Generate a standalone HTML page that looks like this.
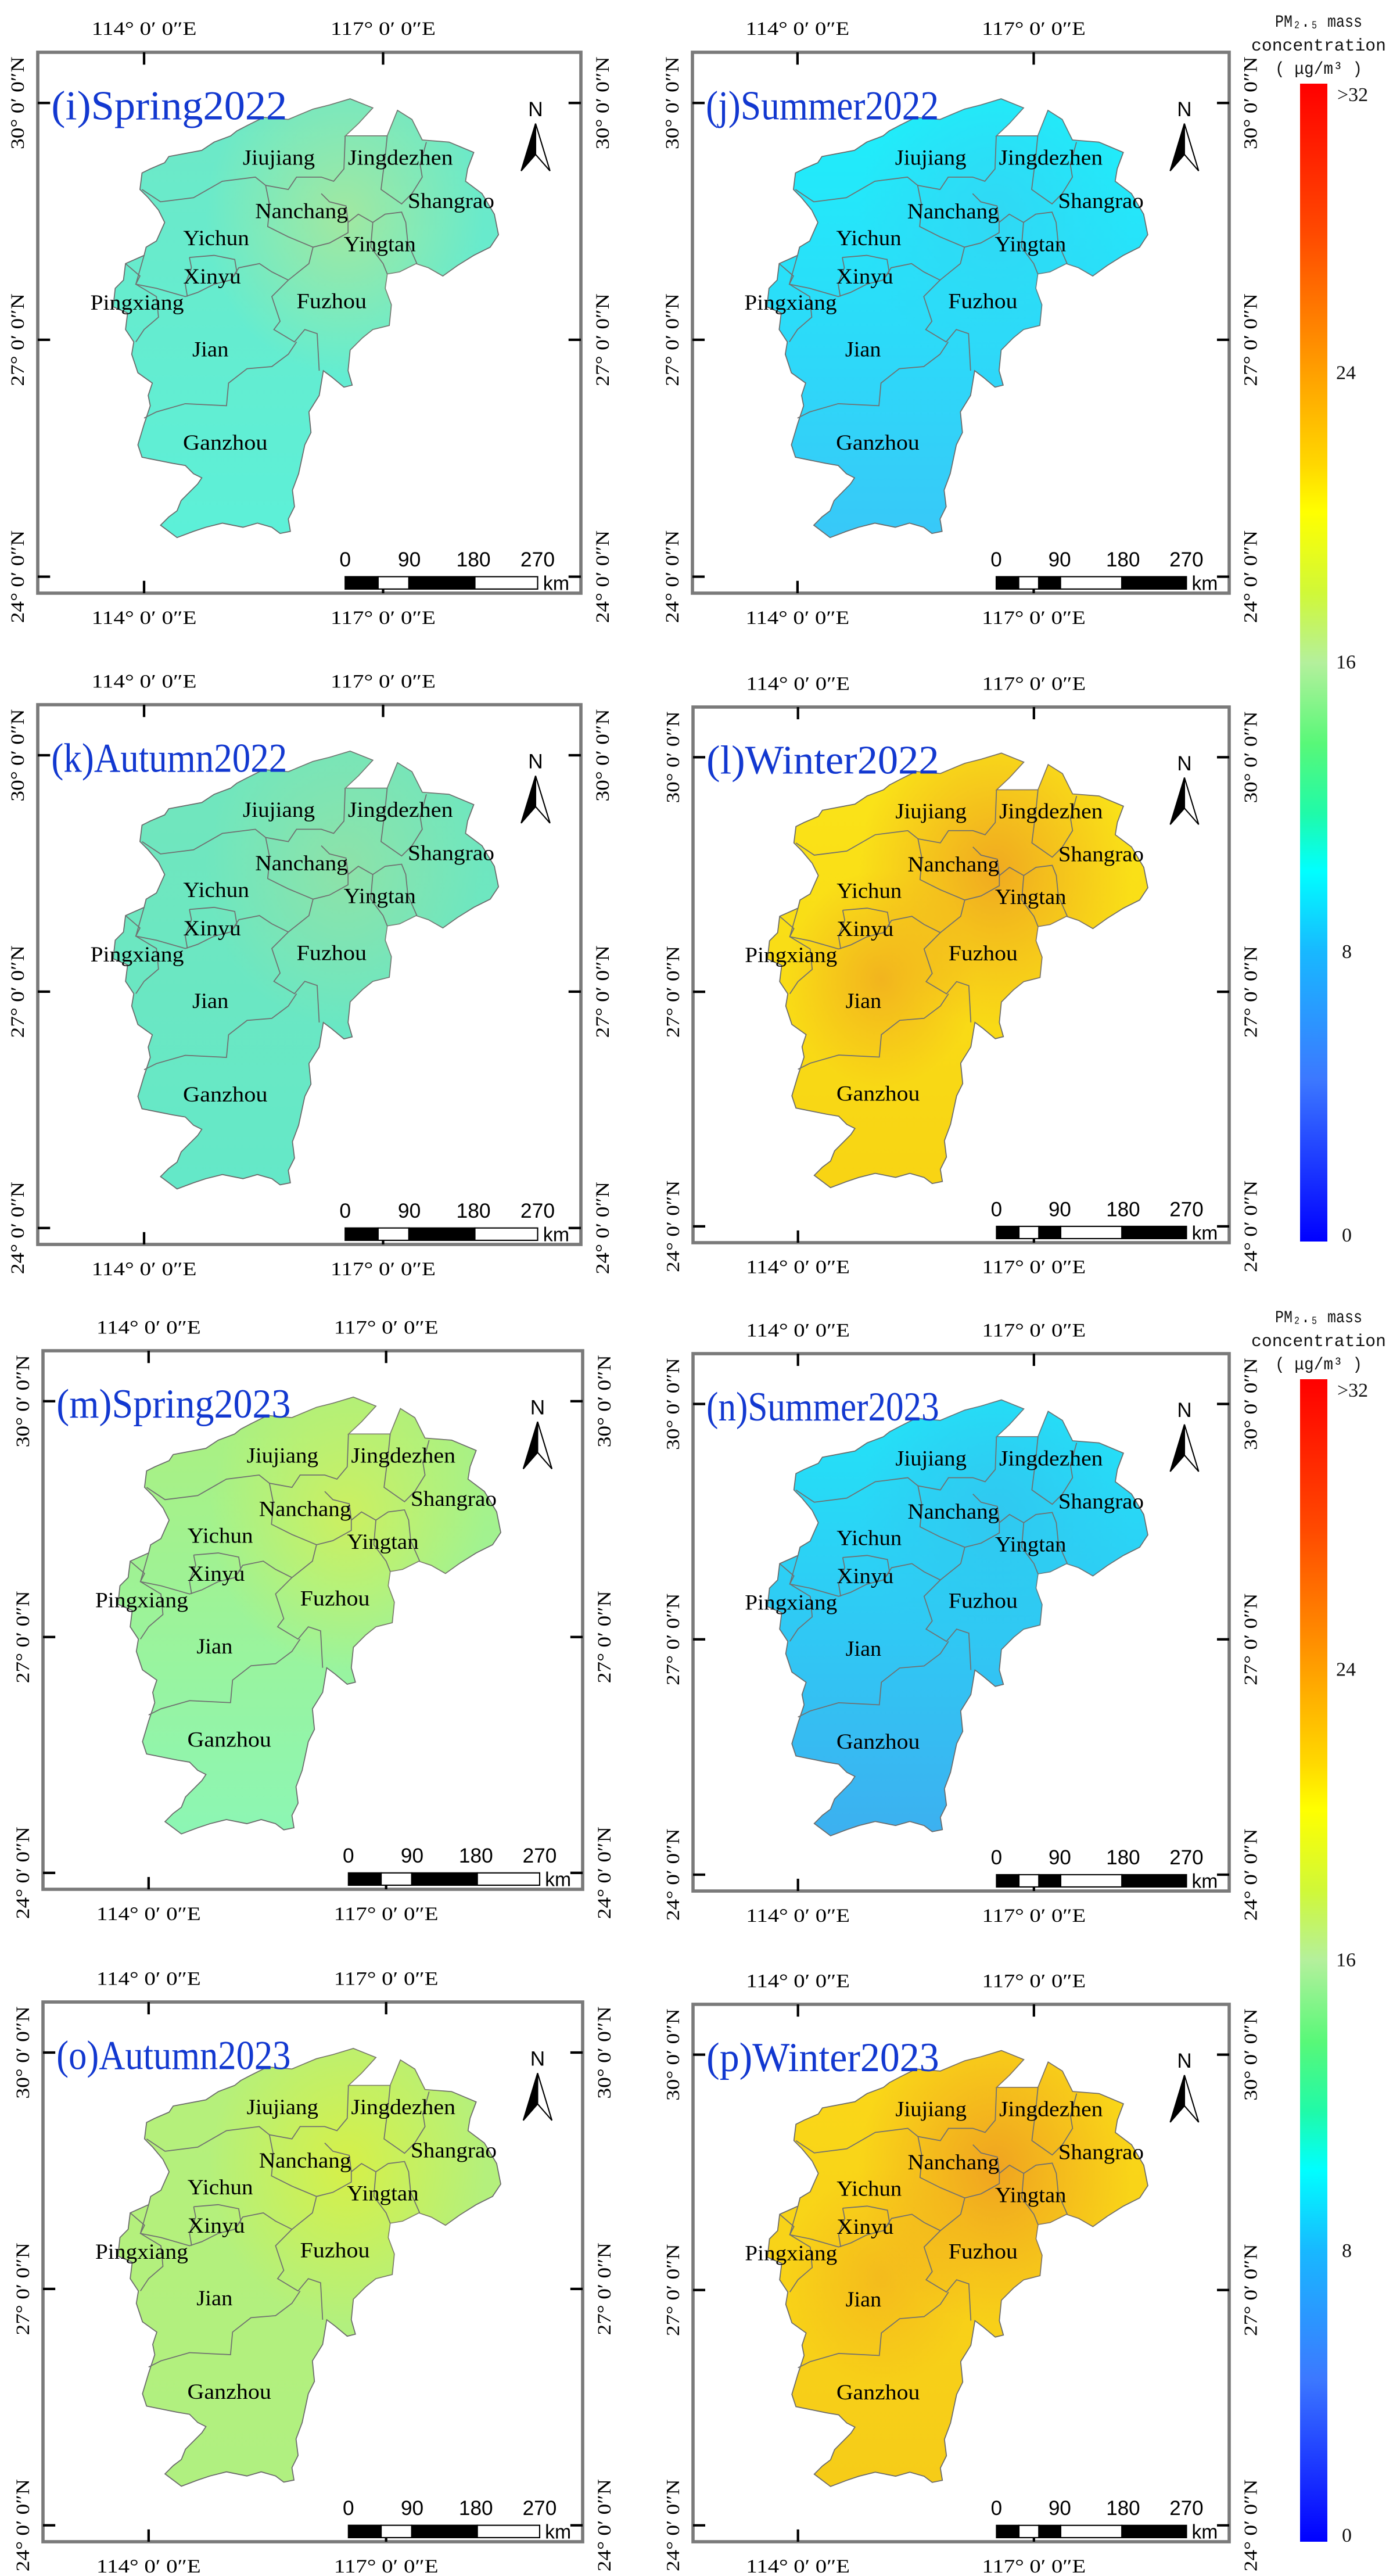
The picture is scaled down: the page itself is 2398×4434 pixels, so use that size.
<!DOCTYPE html>
<html><head><meta charset="utf-8"><style>
html,body{margin:0;padding:0;background:#fff;}
svg{display:block;}
</style></head><body>
<svg id="fig" xmlns="http://www.w3.org/2000/svg" width="2398" height="4434" viewBox="0 0 2398 4434">
<defs>
<linearGradient id="cbar" x1="0" y1="0" x2="0" y2="1">
<stop offset="0" stop-color="#ff0000"/><stop offset="0.13" stop-color="#ff4a00"/>
<stop offset="0.25" stop-color="#ffa000"/><stop offset="0.33" stop-color="#ffd800"/>
<stop offset="0.37" stop-color="#ffff00"/><stop offset="0.44" stop-color="#d0f838"/>
<stop offset="0.5" stop-color="#b4f09c"/><stop offset="0.57" stop-color="#58f878"/>
<stop offset="0.63" stop-color="#20faa8"/><stop offset="0.68" stop-color="#00ffff"/>
<stop offset="0.75" stop-color="#18b8ff"/><stop offset="0.86" stop-color="#3c78ff"/>
<stop offset="1" stop-color="#0000ff"/>
</linearGradient>
</defs>
</svg>
<script>
// ---- panel data ----
const panelTitles = ["(i)Spring2022","(j)Summer2022","(k)Autumn2022","(l)Winter2022","(m)Spring2023","(n)Summer2023","(o)Autumn2023","(p)Winter2023"];
const panelTopColors = ["#6ee8c6","#1ef0fa","#72e6bc","#fae418","#acf07e","#22e4f8","#b6f07a","#fad818"];
const panelBottomColors = ["#5cf0d8","#38c8f8","#64e8c8","#f8d414","#8cf6b4","#3cb0f0","#b0f080","#f6cc18"];
const panelHotColors = ["#a2e8a0","#30d8f4","#8ee2a8","#f0aa20","#ccf060","#30c8f0","#d6f048","#f0a420"];
const panelHot2Opacity = [0,0,0,0.8,0,0,0,0.5];
const cityNames = ["Jiujiang","Jingdezhen","Shangrao","Nanchang","Yichun","Yingtan","Xinyu","Pingxiang","Fuzhou","Jian","Ganzhou"];
const scaleTicks = ["0","90","180","270"];
const lonLabels = ["114°  0′ 0″E","117°  0′ 0″E"];
const latLabels = ["30°  0′ 0″N","27°  0′ 0″N","24°  0′ 0″N"];
const cbarTicks = [">32","24","16","8","0"];
const cbarFrac = [0,0.25,0.5,0.75,1];

// ---- geometry (reference units: frame 92..1410 x 127..1440) ----
const outline = [[850,240],[905,262],[870,300],[838,330],[940,330],[965,268],[1000,290],[1025,340],[1090,345],[1150,370],[1135,410],[1130,440],[1170,470],[1200,520],[1210,570],[1190,600],[1150,620],[1110,645],[1075,670],[1040,650],[1010,640],[970,660],[940,665],[935,700],[950,740],[945,790],[905,800],[880,820],[850,850],[845,900],[855,935],[835,940],[805,915],[785,900],[775,960],[750,1000],[755,1050],[740,1080],[725,1150],[710,1190],[715,1230],[700,1260],[705,1290],[680,1295],[660,1280],[625,1270],[590,1280],[540,1270],[500,1280],[470,1290],[430,1305],[390,1275],[410,1255],[430,1240],[440,1215],[460,1195],[480,1175],[490,1160],[470,1150],[450,1130],[420,1125],[345,1110],[335,1080],[350,1030],[355,1015],[365,985],[360,960],[370,930],[335,905],[320,860],[325,830],[305,800],[310,760],[275,745],[280,700],[300,680],[305,640],[350,620],[355,600],[380,585],[400,540],[385,510],[360,480],[340,460],[345,420],[365,410],[400,395],[410,380],[490,365],[520,345],[560,330],[575,318],[600,305],[640,285],[700,290],[760,265],[800,255]];
const borders = [
 [[345,460],[390,490],[470,480],[540,440],[620,430],[645,450],[700,460],[720,430],[780,430],[810,440],[835,410],[838,330]],
 [[940,330],[935,380],[925,460],[975,495],[1000,470],[1025,430],[1020,400],[1035,345]],
 [[645,450],[655,500],[650,550],[700,575],[760,600],[800,590],[845,565],[845,540],[870,520],[905,540],[935,520],[975,515],[985,540],[990,590],[1012,640]],
 [[780,470],[800,490],[840,500],[845,540]],
 [[905,540],[900,600],[930,640],[940,665]],
 [[760,600],[750,640],[700,680],[660,720],[680,780],[665,800],[715,830],[740,800],[770,810],[775,900]],
 [[305,640],[340,670],[330,690],[380,700],[450,720],[480,710],[520,690],[560,680],[580,650],[630,640],[660,660],[700,680]],
 [[460,625],[520,620],[570,630],[575,660],[560,680]],[[460,625],[465,650],[450,690],[455,720]],
 [[350,620],[330,690],[380,720],[385,770],[350,800],[330,830]],
 [[350,1015],[380,1000],[450,980],[550,985],[555,930],[600,895],[660,890],[700,860],[720,830]]
];
const labelPos = [[677,400],[972,400],[1095,505],[732,530],[525,595],[922,610],[515,688],[333,752],[805,748],[511,865],[547,1092]];
const labelLen = [175,255,210,225,160,175,140,227,170,88,205];

const NS='http://www.w3.org/2000/svg';
const svg=document.getElementById('fig');
function mk(tag,attrs,parent){const e=document.createElementNS(NS,tag);for(const k in attrs)e.setAttribute(k,attrs[k]);(parent||svg).appendChild(e);return e;}
const pts=a=>a.map(p=>p.join(',')).join(' ');

const frames=[[65,90,935,931],[1192,90,924,931],[65,1213,935,929],[1193,1217,923,922],[74,2325,929,927],[1193,2330,923,925],[74,3446,929,929],[1193,3450,923,925]];

function drawPanel(i){
  const [fx,fy,fw,fh]=frames[i];
  const sx=fw/1318, sy=fh/1313;
  const defs=svg.querySelector('defs');
  const lg=mk('linearGradient',{id:'fill'+i,x1:0,y1:0,x2:0,y2:1},defs);
  mk('stop',{offset:0,'stop-color':panelTopColors[i]},lg);
  mk('stop',{offset:1,'stop-color':panelBottomColors[i]},lg);
  const rg=mk('radialGradient',{id:'hot'+i,cx:0.6,cy:0.27,r:0.36},defs);
  mk('stop',{offset:0,'stop-color':panelHotColors[i],'stop-opacity':1},rg);
  mk('stop',{offset:1,'stop-color':panelHotColors[i],'stop-opacity':0},rg);
  const rg2=mk('radialGradient',{id:'hotb'+i,cx:0.3,cy:0.52,r:0.25},defs);
  mk('stop',{offset:0,'stop-color':panelHotColors[i],'stop-opacity':panelHot2Opacity[i]},rg2);
  mk('stop',{offset:1,'stop-color':panelHotColors[i],'stop-opacity':0},rg2);
  const g=mk('g',{transform:`translate(${fx},${fy}) scale(${sx},${sy}) translate(-92,-127)`});
  
  
  const fr=mk('rect',{x:92,y:127,width:1318,height:1313,fill:'#fff',stroke:'#7a7a7a','stroke-width':8},g);
  
  
  const prov=mk('polygon',{points:pts(outline),fill:`url(#fill${i})`,stroke:'#6a6a6a','stroke-width':2.5},g);
  
  
  const hot=mk('polygon',{points:pts(outline),fill:`url(#hot${i})`},g);
  
  
  const hot2=mk('polygon',{points:pts(outline),fill:`url(#hotb${i})`},g);
  
  
  borders.forEach(b=>{
    const l=mk('polyline',{points:pts(b),fill:'none',stroke:'#707070','stroke-width':2.5},g);
    
    
  });
  cityNames.forEach((n,k)=>{
    const t=mk('text',{x:labelPos[k][0],y:labelPos[k][1],'text-anchor':'middle','font-family':'Liberation Serif, serif','font-size':52,fill:'#000',textLength:labelLen[k],lengthAdjust:'spacingAndGlyphs'},g);
    t.textContent=n;
    
    
  });
  const tt=mk('text',{x:125,y:290,'font-family':'Liberation Serif, serif','font-size':100,fill:'#1238d0',textLength:panelTitles[i].length*44,lengthAdjust:'spacingAndGlyphs'},g);
  tt.textContent=panelTitles[i];
  
  
  [350,930].forEach((x,k)=>{
    mk('line',{x1:x,y1:127,x2:x,y2:157,stroke:'#000','stroke-width':6},g);
    mk('line',{x1:x,y1:1440,x2:x,y2:1410,stroke:'#000','stroke-width':6},g);
    [85,1515].forEach(y=>{
      const t=mk('text',{x:x,y:y,'text-anchor':'middle','font-family':'Liberation Serif, serif','font-size':46,fill:'#000',textLength:255,lengthAdjust:'spacingAndGlyphs'},g);
      t.textContent=lonLabels[k];
      
      
    });
  });
  [250,825,1400].forEach((y,k)=>{
    mk('line',{x1:92,y1:y,x2:122,y2:y,stroke:'#000','stroke-width':6},g);
    mk('line',{x1:1410,y1:y,x2:1380,y2:y,stroke:'#000','stroke-width':6},g);
    [58,1478].forEach(x=>{
      const t=mk('text',{x:x,y:y,transform:`rotate(-90 ${x} ${y})`,'text-anchor':'middle','font-family':'Liberation Serif, serif','font-size':46,fill:'#000',textLength:225,lengthAdjust:'spacingAndGlyphs'},g);
      t.textContent=latLabels[k];
      
      
    });
  });
  const na=mk('g',{},g);
  
  
  const nt=mk('text',{x:1300,y:282,'text-anchor':'middle','font-family':'Liberation Sans, sans-serif','font-size':50,fill:'#000'},na);
  nt.textContent='N';
  mk('polygon',{points:'1300,300 1265,415 1300,375',fill:'#000',stroke:'#000','stroke-width':3},na);
  mk('polygon',{points:'1300,300 1335,415 1300,375',fill:'#fff',stroke:'#000','stroke-width':3},na);
  const sb=mk('g',{},g);
  
  
  const x0=838,x1=1305,y0=1400,h=30,W=x1-x0;
  const segs = (i%2===0) ? [[0,.171,1],[.171,.331,0],[.331,.674,1],[.674,1,0]] : [[0,.118,1],[.118,.223,0],[.223,.338,1],[.338,.66,0],[.66,1,1]];
  segs.forEach(s=>mk('rect',{x:x0+s[0]*W,y:y0,width:(s[1]-s[0])*W,height:h,fill:s[2]?'#000':'#fff',stroke:'#000','stroke-width':3},sb));
  [0,1/3,2/3,1].forEach((f,k)=>{
    const t=mk('text',{x:x0+f*W,y:1375,'text-anchor':'middle','font-family':'Liberation Sans, sans-serif','font-size':50,fill:'#000'},sb);
    t.textContent=scaleTicks[k];
  });
  const km=mk('text',{x:1318,y:1432,'font-family':'Liberation Sans, sans-serif','font-size':48,fill:'#000'},sb);
  km.textContent='km';
}
for(let i=0;i<8;i++) drawPanel(i);

[[144,2137],[2374,4375]].forEach(([top,bot])=>{
  const cb=mk('g',{});
  
  
  const r=mk('rect',{x:2238,y:top,width:47,height:bot-top,fill:'url(#cbar)'},cb);
  
  
  const lines=['PM\u2082.\u2085 mass','concentration','( \u03bcg/m\u00b3 )'];
  const offs=[-98,-57,-17];
  const lens=[150,232,150];
  lines.forEach((s,k)=>{
    const t=mk('text',{x:2270,y:top+offs[k],'text-anchor':'middle','font-family':'Liberation Mono, monospace','font-size':30,fill:'#111',textLength:lens[k],lengthAdjust:'spacingAndGlyphs'},cb);
    t.textContent=s;
    
    
  });
  cbarTicks.forEach((s,k)=>{
    const y=top+cbarFrac[k]*(bot-top);
    const t=mk('text',{x:k===0?2302:(s.length>1?2300:2310),y:y+(k===0?30:(k===4?0:10)),'font-family':'Liberation Serif, serif','font-size':34,fill:'#111'},cb);
    t.textContent=s;
    
    
  });
});
</script>
</body></html>
